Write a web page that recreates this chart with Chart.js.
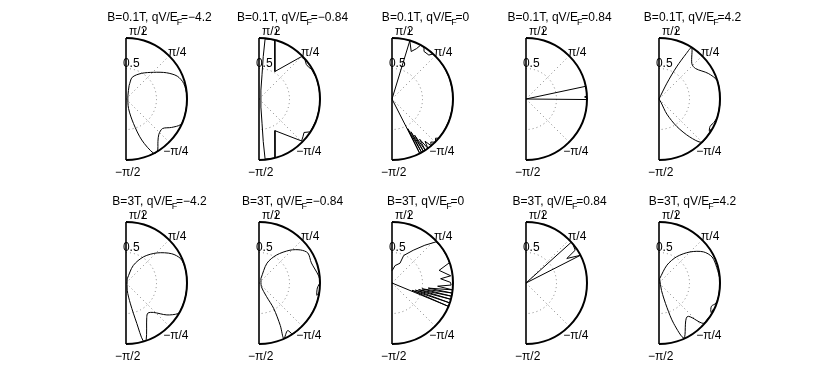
<!DOCTYPE html>
<html><head><meta charset="utf-8">
<script src="https://cdn.jsdelivr.net/npm/chart.js@4/dist/chart.umd.min.js"></script>
<style>
html,body{margin:0;padding:0;background:#fff;}
body{width:817px;height:386px;position:relative;overflow:hidden;}
canvas{position:absolute;}
</style>
</head><body>
<script>
// ---- labels ----
const fieldLabels = ['0.1T', '3T'];
const biasLabels = ['\u22124.2', '\u22120.84', '0', '0.84', '4.2'];
const angleTickLabels = ['\u03c0/2', '\u03c0/4', '\u2212\u03c0/4', '\u2212\u03c0/2'];
const radiusTickLabel = '0.5';

// ---- data: polar paths, angle in degrees, radius (0..1) ----
// B = 0.1 T
const thetaB01Vm42 = [77, 74, 59, 44, 33, 24, 15, 3, -6, -18, -25, -32, -39, -47, -53, -59, -63, -69, -73, -75, 59, 77];
const rhoB01Vm42   = [0.23, 0.37, 0.49, 0.63, 0.79, 0.92, 0.98, 1.0, 1.0, 1.0, 0.99, 0.88, 0.77, 0.79, 0.87, 1.0, 1.0, 0.72, 0.42, 0.16, 0.06, 0.23];

const thetaB01Vm084 = [75, 60, 45, 40.5, 36, 32, 30, 20, 10, 0, -10, -20, -32, -33, -36.6, -40.7, -44.6, -63.4, -74.8, -84.2, -84.3, -82.9, -77.6, 0, 77.6, 82.9, 84.3, 84.2, 75];
const rhoB01Vm084   = [1.0, 0.52, 0.98, 0.99, 0.96, 0.97, 0.99, 1.0, 1.0, 1.0, 1.0, 1.0, 1.0, 0.99, 0.92, 0.95, 0.98, 0.58, 1.0, 0.99, 0.70, 0.40, 0.15, 0.03, 0.15, 0.40, 0.70, 0.99, 1.0];

const thetaB01V0 = [-90, -64, -63, -62, -61, -60, -59, -58, -57, -55.5, -54, -52, -50, -48, -45, -42, -40, -38, -30, -20, -10, 0, 10, 20, 30, 40, 46, 48, 50, 56, 58, 62, 64, 68, 73, 73.5, 90];
const rhoB01V0   = [0, 0, 1.0, 0.55, 1.0, 0.62, 1.0, 0.7, 1.0, 0.8, 1.0, 0.88, 1.0, 0.95, 1.0, 0.96, 1.0, 1.0, 1.0, 1.0, 1.0, 1.0, 1.0, 1.0, 1.0, 1.0, 1.0, 0.99, 0.94, 0.94, 0.99, 1.0, 0.92, 0.84, 1.0, 0, 0];

const thetaB01V084 = [-90, -1, -0.5, 1, 2, 3, 6, 9, 12, 12.3, 90];
const rhoB01V084   = [0, 0, 1.0, 1.0, 0.96, 1.0, 1.0, 1.0, 0.99, 0, 0];

const thetaB01V42 = [0, 63.4, 61.3, 59, 57.6, 47, 39.8, 27.4, 17.5, 5.8, -5.8, -16, -23, -28, -32.6, -30, -38.5, -45.4, -51, -57, -62.5, -59, 0];
const rhoB01V42   = [0, 0.29, 0.60, 0.87, 1.0, 0.79, 0.78, 0.91, 1.0, 1.0, 1.0, 1.0, 0.98, 0.95, 0.98, 0.99, 1.0, 1.0, 0.8, 0.54, 0.28, 0.06, 0];

// B = 3 T
const thetaB3Vm42 = [74, 67.5, 56, 44, 32.6, 24, 14, 4.5, -7, -17.5, -27, -30.5, -38, -47, -54, -59, -70.5, -73.5, -75, -78, -80.5, 74];
const rhoB3Vm42   = [0.07, 0.31, 0.52, 0.71, 0.89, 0.98, 1.0, 1.0, 1.0, 1.0, 1.0, 0.99, 0.85, 0.66, 0.61, 0.66, 0.99, 0.99, 0.69, 0.35, 0.12, 0.07];

const thetaB3Vm084 = [67, 68, 58, 46.6, 38.5, 31.5, 21, 7.6, 1, -4.8, -12, -8.6, -14.5, -23.5, -36, -47, -56.5, -59, -66, -63.4, -60, -61, -56, 67];
const rhoB3Vm084   = [0.08, 0.35, 0.54, 0.74, 0.87, 0.94, 0.92, 0.98, 1.0, 0.96, 0.97, 1.0, 1.0, 1.0, 1.0, 1.0, 1.0, 0.91, 1.0, 0.78, 0.48, 0.25, 0.07, 0.08];

const thetaB3V0 = [-90, -23, -22.5, -20, -19, -17, -15.5, -14, -12.5, -11, -9.5, -8, -6.5, -4, -2, 0.6, 5, 7, 15, 19.5, 26, 35, 43, 49, 57, 67, 68, 80, 90];
const rhoB3V0   = [0, 0, 1.0, 0.35, 1.0, 0.4, 1.0, 0.45, 1.0, 0.5, 1.0, 0.6, 1.0, 0.75, 0.97, 0.96, 0.8, 0.97, 0.8, 1.0, 1.0, 1.0, 0.99, 0.82, 0.64, 0.49, 0.35, 0.29, 0.2];

const thetaB3V084 = [-90, 26.5, 27, 31, 33.7, 40, 42, 42.3, 90];
const rhoB3V084   = [0, 0, 1.0, 0.78, 0.97, 1.0, 1.0, 0, 0];

const thetaB3V42 = [82, 66, 56, 45, 35, 26, 15, 2, -11.5, -19.5, -24, -29.5, -26, -31.5, -37, -42.5, -50, -65.5, -70, -72, -71.5, 82];
const rhoB3V42   = [0.07, 0.32, 0.52, 0.72, 0.89, 0.97, 0.98, 1.0, 1.0, 0.99, 0.94, 0.98, 0.99, 1.0, 0.99, 0.98, 0.72, 0.99, 0.71, 0.42, 0.13, 0.07];

// ---- panel table built from the arrays ----
const panels = [
  {f: 0, b: 0, th: thetaB01Vm42, r: rhoB01Vm42, smooth: 0.3},
  {f: 0, b: 1, th: thetaB01Vm084, r: rhoB01Vm084, smooth: 0},
  {f: 0, b: 2, th: thetaB01V0, r: rhoB01V0, smooth: 0},
  {f: 0, b: 3, th: thetaB01V084, r: rhoB01V084, smooth: 0},
  {f: 0, b: 4, th: thetaB01V42, r: rhoB01V42, smooth: 0.3},
  {f: 1, b: 0, th: thetaB3Vm42, r: rhoB3Vm42, smooth: 0.3},
  {f: 1, b: 1, th: thetaB3Vm084, r: rhoB3Vm084, smooth: 0.3},
  {f: 1, b: 2, th: thetaB3V0, r: rhoB3V0, smooth: 0},
  {f: 1, b: 3, th: thetaB3V084, r: rhoB3V084, smooth: 0},
  {f: 1, b: 4, th: thetaB3V42, r: rhoB3V42, smooth: 0.3}
];

// ---- layout ----
const originX = [126, 259, 392, 526, 659];
const rowTop = [0, 184];
const padL = 30, padT = 38, R = 61, cw = 134, ch = 190;
const FONT = '"Liberation Sans", Arial, Helvetica, sans-serif';

const polarFrame = {
  id: 'polarFrame',
  beforeDatasetsDraw(chart, args, opts) {
    const ctx = chart.ctx, xs = chart.scales.x, ys = chart.scales.y;
    const cx = xs.getPixelForValue(0), cy = ys.getPixelForValue(0);
    const rad = xs.getPixelForValue(1) - cx;
    ctx.save();
    ctx.strokeStyle = '#808080';
    ctx.lineWidth = 1;
    ctx.setLineDash([1, 3]);
    ctx.beginPath();
    ctx.arc(cx, cy, rad * 0.5, -Math.PI / 2, Math.PI / 2);
    ctx.stroke();
    [Math.PI / 4, -Math.PI / 4].forEach(a => {
      ctx.beginPath();
      ctx.moveTo(cx, cy);
      ctx.lineTo(cx + rad * Math.cos(a), cy - rad * Math.sin(a));
      ctx.stroke();
    });
    ctx.restore();
  },
  afterDatasetsDraw(chart, args, opts) {
    const ctx = chart.ctx, xs = chart.scales.x, ys = chart.scales.y;
    const cx = xs.getPixelForValue(0), cy = ys.getPixelForValue(0);
    const rad = xs.getPixelForValue(1) - cx;
    const P = (u, v) => [cx + u * rad, cy - v * rad];
    ctx.save();
    ctx.strokeStyle = '#000';
    ctx.lineWidth = 2;
    ctx.beginPath();
    ctx.arc(cx, cy, rad, -Math.PI / 2, Math.PI / 2);
    ctx.stroke();
    ctx.lineWidth = 1.6;
    ctx.beginPath();
    ctx.moveTo(cx, cy - rad);
    ctx.lineTo(cx, cy + rad);
    ctx.stroke();
    // small tick next to the top label
    ctx.lineWidth = 1;
    ctx.beginPath();
    const t = P(0.28, 1.02);
    ctx.moveTo(Math.round(t[0]) + 0.5, t[1] - 8);
    ctx.lineTo(Math.round(t[0]) + 0.5, t[1] - 3);
    ctx.stroke();

    ctx.fillStyle = '#000';
    ctx.textBaseline = 'alphabetic';
    ctx.textAlign = 'left';
    ctx.font = '12px ' + FONT;
    const lab = [[angleTickLabels[0], 0.05, 1.05], [angleTickLabels[1], 0.69, 0.70],
                 [angleTickLabels[2], 0.61, -0.92], [angleTickLabels[3], -0.18, -1.26],
                 [radiusTickLabel, -0.05, 0.52]];
    lab.forEach(([s, u, v]) => { const p = P(u, v); ctx.fillText(s, p[0], p[1]); });

    // title with subscript
    const o = opts;
    const p1 = 'B=' + fieldLabels[o.f] + ', qV/E', sub = 'F', p2 = '=' + biasLabels[o.b];
    ctx.font = '12px ' + FONT;
    const w1 = ctx.measureText(p1).width, w2 = ctx.measureText(p2).width;
    ctx.font = '9px ' + FONT;
    const ws = ctx.measureText(sub).width;
    const total = w1 + ws * 0.6 + w2;
    const tc = P(0.55, 0)[0];
    let x = tc - total / 2;
    const yb = cy - rad - 17;
    ctx.font = '12px ' + FONT;
    ctx.fillText(p1, x, yb);
    ctx.font = '9px ' + FONT;
    ctx.fillText(sub, x + w1 - 1, yb + 4);
    ctx.font = '12px ' + FONT;
    ctx.fillText(p2, x + w1 + ws * 0.6, yb);
    ctx.restore();
  }
};

panels.forEach((p, i) => {
  const col = i % 5, row = Math.floor(i / 5);
  const cv = document.createElement('canvas');
  cv.width = cw; cv.height = ch;
  cv.style.left = (originX[col] - padL) + 'px';
  cv.style.top = rowTop[row] + 'px';
  document.body.appendChild(cv);
  const pts = p.th.map((a, k) => ({
    x: p.r[k] * Math.cos(a * Math.PI / 180),
    y: p.r[k] * Math.sin(a * Math.PI / 180)
  }));
  new Chart(cv, {
    type: 'scatter',
    data: { datasets: [{ data: pts, showLine: true, borderColor: '#000', borderWidth: 1,
      pointRadius: 0, tension: p.smooth, fill: false, clip: false }] },
    options: {
      responsive: false, animation: false, devicePixelRatio: 1,
      layout: { padding: { left: padL, top: padT, right: cw - padL - R, bottom: ch - padT - 2 * R } },
      scales: { x: { type: 'linear', min: 0, max: 1, display: false },
                y: { type: 'linear', min: -1, max: 1, display: false } },
      plugins: { legend: { display: false }, tooltip: { enabled: false },
                 polarFrame: { f: p.f, b: p.b } }
    },
    plugins: [polarFrame]
  });
});
</script>
</body></html>
